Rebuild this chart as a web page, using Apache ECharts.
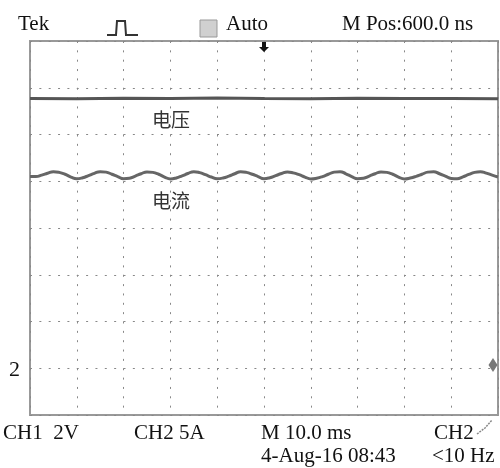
<html>
    <head>
        <meta charset='utf-8'>
        <script src='https://cdn.jsdelivr.net/npm/echarts@6/dist/echarts.min.js'></script>
    </head>
    <body>
        <style>
            html, body, #main {
                width: 100%;
                height: 100%;
                margin: 0;
                background: #fff;
            }
        </style>
        <div id='main'></div>
        <script>

            // screen: 10 div x 10 ms, 8 div vertical (values in divisions)
            var TIME_STEP = 1.25;

            var voltageTime = [0, 10, 20, 30, 40, 50, 60, 70, 80, 90, 100];
            var voltage = [2.77, 2.765, 2.775, 2.77, 2.78, 2.77, 2.765, 2.775, 2.77, 2.77, 2.765];

            var current = [
                1.10, 1.10, 1.13, 1.17, 1.205, 1.19, 1.15, 1.09,
                1.055, 1.075, 1.12, 1.17, 1.205, 1.195, 1.15, 1.10,
                1.055, 1.065, 1.11, 1.16, 1.20, 1.19, 1.15, 1.09,
                1.05, 1.07, 1.115, 1.165, 1.205, 1.185, 1.14, 1.09,
                1.055, 1.07, 1.11, 1.16, 1.205, 1.19, 1.15, 1.10,
                1.055, 1.075, 1.12, 1.165, 1.20, 1.18, 1.14, 1.09,
                1.05, 1.065, 1.10, 1.15, 1.195, 1.205, 1.16, 1.10,
                1.055, 1.065, 1.11, 1.16, 1.20, 1.19, 1.15, 1.09,
                1.05, 1.07, 1.105, 1.15, 1.195, 1.205, 1.16, 1.11,
                1.06, 1.055, 1.095, 1.145, 1.19, 1.205, 1.175, 1.13,
                1.09
            ];

            var triggerTime = 50;
            var triggerLevel = -2.93;

            var topLabels = ['Tek', 'Auto', 'M Pos:600.0 ns'];
            var bottomLabels = ['CH1  2V', 'CH2 5A', 'M 10.0 ms', 'CH2', '4-Aug-16 08:43', '<10 Hz'];
            var traceNames = ['电压', '电流'];

            var currentData = current.map(function (v, i) {
                return [i * TIME_STEP, v];
            });
            var voltageData = voltageTime.map(function (t, i) {
                return [t, voltage[i]];
            });

            var chart = echarts.init(document.getElementById('main'));

            var serif = 'Liberation Serif';
            var gridLine = {
                show: true,
                lineStyle: { color: '#888', width: 1, type: [2, 7.35] }
            };

            function txt(x, y, s, size) {
                return {
                    type: 'text', x: x, y: y,
                    style: {
                        text: s, fill: '#111', font: (size || 21) + 'px "' + serif + '"',
                        textVerticalAlign: 'bottom'
                    }
                };
            }

            var option = {
                backgroundColor: '#fff',
                animation: false,
                grid: {
                    left: 30, top: 41, right: 2, bottom: 53,
                    show: true,
                    borderColor: '#999',
                    borderWidth: 2
                },
                xAxis: {
                    type: 'value', min: 0, max: 100, interval: 10,
                    axisLabel: { show: false },
                    axisTick: { show: false },
                    axisLine: { show: false },
                    splitLine: gridLine
                },
                yAxis: {
                    type: 'value', min: -4, max: 4, interval: 1,
                    axisLabel: { show: false },
                    axisTick: { show: false },
                    axisLine: { show: false },
                    splitLine: gridLine
                },
                series: [{
                    type: 'line',
                    name: traceNames[0],
                    data: voltageData,
                    showSymbol: false,
                    lineStyle: { color: '#555', width: 3 },
                    markPoint: {
                        silent: true,
                        label: { show: false },
                        data: [{
                            coord: [triggerTime, 4],
                            symbol: 'path://M3,0 L7,0 L7,5 L10,5 L5,10 L0,5 L3,5 Z',
                            symbolSize: [10, 10],
                            symbolOffset: [0, 6],
                            itemStyle: { color: '#111' }
                        }, {
                            coord: [100, triggerLevel],
                            symbol: 'diamond',
                            symbolSize: [9, 14],
                            symbolOffset: [-5, 0],
                            itemStyle: { color: '#777' }
                        }]
                    }
                }, {
                    type: 'line',
                    name: traceNames[1],
                    data: currentData,
                    smooth: true,
                    showSymbol: false,
                    lineStyle: { color: '#666', width: 3 }
                }],
                graphic: [
                    txt(18, 35, topLabels[0]),
                    txt(226, 35, topLabels[1]),
                    txt(342, 35, topLabels[2]),
                    {
                        type: 'polyline',
                        shape: { points: [[107, 35], [116, 35], [117, 21], [125, 21], [126, 35], [138, 35]] },
                        style: { stroke: '#333', lineWidth: 2, fill: null }
                    },
                    {
                        type: 'rect',
                        shape: { x: 200, y: 20, width: 17, height: 17 },
                        style: { fill: '#d0d0d0', stroke: '#999', lineWidth: 1 }
                    },
                    txt(3, 444, bottomLabels[0]),
                    txt(134, 444, bottomLabels[1]),
                    txt(261, 444, bottomLabels[2]),
                    txt(434, 444, bottomLabels[3]),
                    txt(261, 467, bottomLabels[4]),
                    txt(432, 467, bottomLabels[5]),
                    txt(9, 381, '2', 22),
                    {
                        type: 'polyline',
                        shape: { points: [[477, 434], [485, 428], [492, 420]] },
                        style: { stroke: '#888', lineWidth: 1.5, lineDash: [2, 1], fill: null }
                    },
                    {
                        type: 'text', x: 152, y: 120,
                        style: {
                            text: traceNames[0], fill: '#333',
                            font: '19px "Noto Sans CJK SC"', textVerticalAlign: 'middle'
                        }
                    },
                    {
                        type: 'text', x: 152, y: 201,
                        style: {
                            text: traceNames[1], fill: '#333',
                            font: '19px "Noto Sans CJK SC"', textVerticalAlign: 'middle'
                        }
                    }
                ]
            };

            chart.setOption(option);

        </script>
    </body>
</html>
